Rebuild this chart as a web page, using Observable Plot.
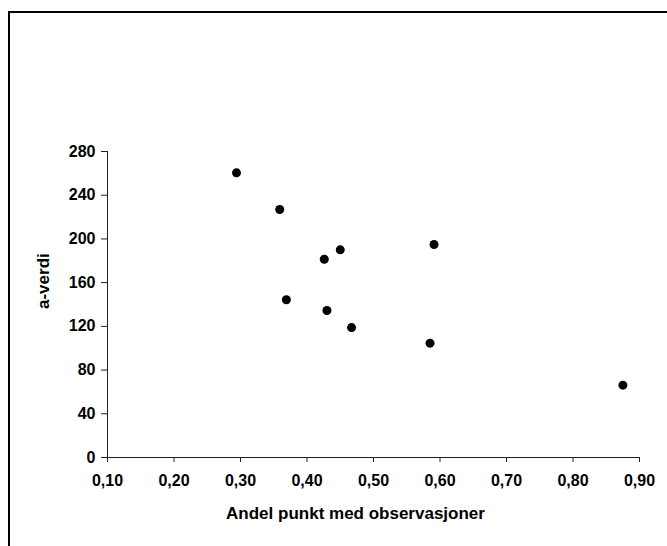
<!DOCTYPE html>
<html><head><meta charset="utf-8">
<script src="https://cdn.jsdelivr.net/npm/d3@7"></script>
<script src="https://cdn.jsdelivr.net/npm/@observablehq/plot@0.6"></script>
<style>
html,body{margin:0;padding:0;background:#fff;overflow:hidden}
#wrap{position:relative;width:667px;height:546px;overflow:hidden}
#wrap svg{display:block}
#frame{position:absolute;left:8px;top:11px;width:720px;height:600px;border:2px solid #000;pointer-events:none;z-index:2}
</style></head><body><div id="wrap"><div id="frame"></div></div>
<script>
const xValues = [0.294, 0.359, 0.450, 0.426, 0.591, 0.369, 0.430, 0.467, 0.585, 0.875];
const yValues = [260.5, 226.9, 190.0, 181.4, 194.9, 144.3, 134.5, 118.9, 104.6, 66.2];
const xTicks = [0.1, 0.2, 0.3, 0.4, 0.5, 0.6, 0.7, 0.8, 0.9];
const yTicks = [0, 40, 80, 120, 160, 200, 240, 280];
const xLabel = "Andel punkt med observasjoner";
const yLabel = "a-verdi";

const data = xValues.map((x, i) => ({x, y: yValues[i]}));
const fmt = d => d.toFixed(2).replace(".", ",");

const chart = Plot.plot({
  width: 667, height: 546,
  marginLeft: 107, marginRight: 28, marginTop: 151, marginBottom: 89,
  style: {fontFamily: "'Liberation Sans', Arial, sans-serif", fontSize: "16px", fontWeight: "bold", color: "#000", background: "transparent"},
  x: {domain: [0.1, 0.9]},
  y: {domain: [0, 280]},
  marks: [
    Plot.axisX({ticks: xTicks, tickFormat: fmt, tickSize: 5, tickPadding: 12, label: null, stroke: "#222"}),
    Plot.axisY({ticks: yTicks, tickSize: 6, tickPadding: 6, label: null, stroke: "#222"}),
    Plot.ruleX([0.1], {stroke: "#222"}),
    Plot.ruleY([0], {stroke: "#222"}),
    Plot.dot(data, {x: "x", y: "y", r: 4.5, fill: "#000"}),
    Plot.text([xLabel], {frameAnchor: "bottom", text: d => d, dx: -18, dy: 61, lineAnchor: "bottom", fontSize: 17, fill: "#000"}),
    Plot.text([yLabel], {frameAnchor: "left", text: d => d, rotate: -90, dx: -64, dy: 4.5, fontSize: 17, fill: "#000"})
  ]
});
document.getElementById("wrap").prepend(chart);
</script>
</body></html>
